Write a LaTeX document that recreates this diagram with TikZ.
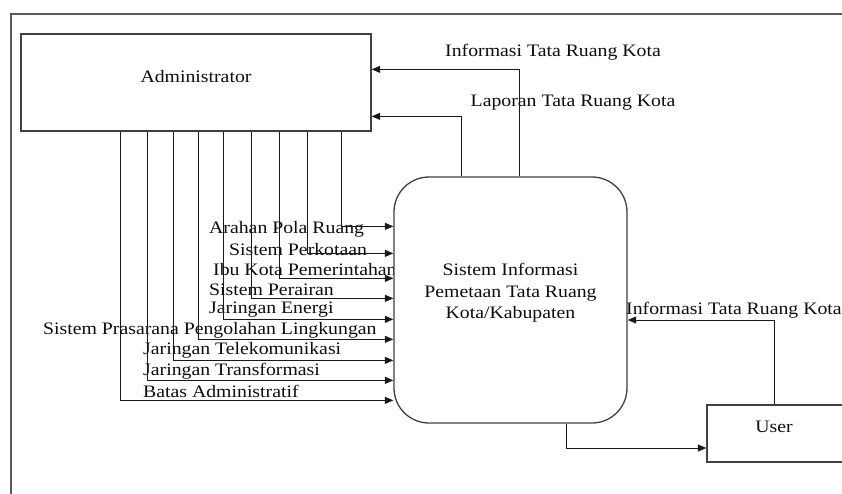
\documentclass[tikz,border=0pt]{standalone}
\usepackage{fontspec}
\setmainfont{Liberation Serif}[FakeStretch=1.13]
\usetikzlibrary{arrows.meta}
\begin{document}
\begin{tikzpicture}[x=1pt,y=-1pt,
  every node/.style={font=\fontsize{17.5}{21.5}\selectfont, text=black!95},
  box/.style={draw=black!75, line width=1.3pt, fill=white, inner sep=0pt},
  lbl/.style={inner sep=0pt, anchor=west},
  arr/.style={draw=black!90, line width=1pt, -{Triangle[length=8.5pt,width=7pt]}},
  frame/.style={draw=black!65, line width=1.3pt}
  ]
\clip (0,0) rectangle (842,493);
\fill[white] (0,0) rectangle (842,493);
\draw[frame] (11,500) -- (11,14) -- (850,14);

% Administrator
\node[box, minimum width=350pt, minimum height=97pt] (admin) at (196,82.5) {};
\node (admintxt) at (196,77) {Administrator};

% fan labels
\node[lbl] (f1) at (209,229) {Arahan Pola Ruang};
\node[lbl] (f2) at (229,250) {Sistem Perkotaan};
\node[lbl] (f3) at (213,270) {Ibu Kota Pemerintahan};
\node[lbl] (f4) at (209,290) {Sistem Perairan};
\node[lbl] (f5) at (209,310) {Jaringan Energi};
\node[lbl] (f6) at (43,330) {Sistem Prasarana Pengolahan Lingkungan};
\node[lbl] (f7) at (143,350) {Jaringan Telekomunikasi};
\node[lbl] (f8) at (143,371) {Jaringan Transformasi};
\node[lbl] (f9) at (143,391) {Batas Administratif};

% Process
\node[box, rounded corners=35pt, minimum width=233pt, minimum height=246pt] (proc) at (510.5,300) {};
\node[align=center] (proctxt) at (510.5,293) {Sistem Informasi\\Pemetaan Tata Ruang\\Kota/Kabupaten};

% fan arrows
\foreach \dx/\dy in {100/-224,127/-204,153/-184,178/-163,203/-143,231/-122,259/-102,287/-77,321/-50}
  \draw[arr] ([xshift=\dx pt]admin.south west) |- ([yshift=\dy pt]proc.north west);

% returns to admin
\draw[arr] ([xshift=8.5pt]proc.north) |- ([yshift=-36pt]admin.north east);
\draw[arr] ([xshift=-49.5pt]proc.north) |- ([yshift=-83pt]admin.north east);
\node (l1) at (553,52) {Informasi Tata Ruang Kota};
\node (l2) at (573,103) {Laporan Tata Ruang Kota};

% User
\node[box, minimum width=138pt, minimum height=57pt] (user) at (776,433.5) {};
\node (usertxt) at (774,427) {User};
\draw[arr] ([xshift=55.5pt]proc.south) |- ([yshift=-14.5pt]user.west);
\draw[arr] ([xshift=-2pt]user.north) |- ([yshift=-20pt]proc.east);
\node[lbl] (l3) at (626,310) {Informasi Tata Ruang Kota};
\end{tikzpicture}
\end{document}
